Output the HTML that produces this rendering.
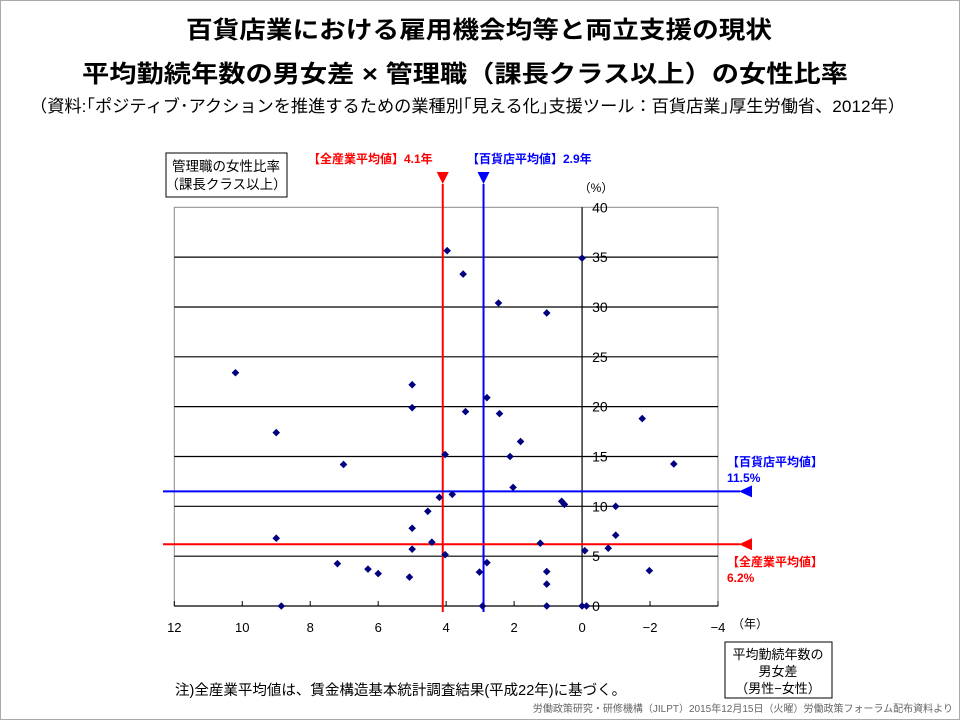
<!DOCTYPE html>
<html><head><meta charset="utf-8"><style>
html,body{margin:0;padding:0;background:#fff}
svg{display:block}
text{font-family:"Liberation Sans","Noto Sans CJK JP",sans-serif}
</style></head><body>
<svg id="chart" width="960" height="720" viewBox="0 0 960 720">
<rect x="0.5" y="0.5" width="959" height="719" fill="#fff" stroke="#aaa"/>
<text x="186" y="38" font-size="24" font-weight="bold" textLength="586" lengthAdjust="spacingAndGlyphs">百貨店業における雇用機会均等と両立支援の現状</text>
<text x="82" y="82" font-size="24" font-weight="bold" textLength="766" lengthAdjust="spacingAndGlyphs">平均勤続年数の男女差 × 管理職（課長クラス以上）の女性比率</text>
<text x="30" y="112" font-size="17" textLength="875" lengthAdjust="spacingAndGlyphs">（資料:｢ポジティブ･アクションを推進するための業種別｢見える化｣支援ツール：百貨店業｣厚生労働省、2012年）</text>
<g id="plot"></g>
<rect x="166" y="153" width="121" height="44" fill="none" stroke="#000"/>
<text x="226" y="171" text-anchor="middle" font-size="13.5">管理職の女性比率</text>
<text x="226" y="189" text-anchor="middle" font-size="13.5">（課長クラス以上）</text>
<text x="596" y="192" text-anchor="middle" font-size="12">（%）</text>
<text x="750" y="628" text-anchor="middle" font-size="12">（年）</text>
<rect x="725" y="642" width="107" height="56" fill="none" stroke="#000"/>
<text x="778" y="659" text-anchor="middle" font-size="13">平均勤続年数の</text>
<text x="778" y="676" text-anchor="middle" font-size="13">男女差</text>
<text x="778" y="693" text-anchor="middle" font-size="13">（男性−女性）</text>
<text x="175" y="695" font-size="14.5">注)全産業平均値は、賃金構造基本統計調査結果(平成22年)に基づく。</text>
<text x="953" y="712" text-anchor="end" font-size="10" fill="#666">労働政策研究・研修機構（JILPT）2015年12月15日（火曜）労働政策フォーラム配布資料より</text>
</svg>
<script>
const xs=[3.97,3.5,2.46,1.04,0,10.2,5.0,5.0,2.8,3.43,2.43,9.0,1.81,4.03,2.12,7.02,2.03,3.82,4.2,0.6,0.52,4.54,5.0,9.0,4.42,1.23,5.0,-0.08,4.03,7.2,2.8,6.3,6.0,5.08,3.02,1.04,1.04,8.85,2.93,1.04,0,-0.13,-0.99,-0.99,-0.77,-1.77,-2.7,-1.98];
const ys=[35.65,33.3,30.4,29.4,34.9,23.4,22.2,19.9,20.9,19.5,19.3,17.4,16.5,15.2,15.0,14.2,11.9,11.2,10.9,10.5,10.2,9.5,7.8,6.8,6.4,6.3,5.7,5.55,5.15,4.25,4.35,3.7,3.25,2.9,3.4,3.45,2.2,0,0,0,0,0,10.0,7.1,5.8,18.8,14.25,3.55];
const xTicks=[12,10,8,6,4,2,0,-2,-4];
const yTicks=[0,5,10,15,20,25,30,35,40];
const avgAllX=4.1, avgDeptX=2.9, avgDeptY=11.5, avgAllY=6.2;
const X0=174.3,X1=718,Y0=606,Y1=207.3;
const sx=v=>X0+(12-v)*(X1-X0)/16;
const sy=v=>Y0-v*(Y0-Y1)/40;
const NS="http://www.w3.org/2000/svg";
const g=document.getElementById('plot');
function mk(t,a){const e=document.createElementNS(NS,t);for(const k in a)e.setAttribute(k,a[k]);g.appendChild(e);return e;}
const bg=mk('rect',{x:X0,y:Y1,width:X1-X0,height:Y0-Y1,fill:'#fff',stroke:'#888'});


yTicks.forEach(t=>{
 if(t>0&&t<40){const l=mk('line',{x1:X0,x2:X1,y1:sy(t),y2:sy(t),stroke:'#000','stroke-width':1.2});
 
 }
 const tx=mk('text',{x:sx(0)+10,y:sy(t)+5,'font-size':14});tx.textContent=t;
 
 
});
const xa=mk('line',{x1:X0,x2:X1,y1:Y0,y2:Y0,stroke:'#000','stroke-width':1.2});


const ya=mk('line',{x1:sx(0),x2:sx(0),y1:Y1,y2:Y0,stroke:'#000','stroke-width':1.2});


xTicks.forEach(t=>{
 const l=mk('line',{x1:sx(t),x2:sx(t),y1:Y0,y2:Y0-5,stroke:'#000'});
 
 
 const tx=mk('text',{x:sx(t),y:632,'font-size':13,'text-anchor':'middle'});tx.textContent=t<0?'−'+(-t):t;
 
 
});
function vline(v,c,name,label,lx){
 const l=mk('line',{x1:sx(v),x2:sx(v),y1:184,y2:612,stroke:c,'stroke-width':2});
 
 
 const a=mk('polygon',{points:`${sx(v)-6},172 ${sx(v)+6},172 ${sx(v)},184`,fill:c});
 
 
 const t=mk('text',{x:lx,y:163,'font-size':12,'font-weight':'bold',fill:c});t.textContent=label;
 
 
}
function hline(v,c,name,l1,l2,ty){
 const l=mk('line',{x1:163,x2:740,y1:sy(v),y2:sy(v),stroke:c,'stroke-width':2});
 
 
 const a=mk('polygon',{points:`${739},${sy(v)} ${752},${sy(v)-6} ${752},${sy(v)+6}`,fill:c});
 
 
 const t=mk('text',{x:727,y:ty,'font-size':12,'font-weight':'bold',fill:c});t.textContent=l1;
 
 
 const t2=mk('text',{x:727,y:ty+16,'font-size':12,'font-weight':'bold',fill:c});t2.textContent=l2;
 
 
}
vline(avgAllX,'#f00','all-industry-avg-line','【全産業平均値】'+avgAllX+'年',308);
vline(avgDeptX,'#00f','dept-store-avg-line','【百貨店平均値】'+avgDeptX+'年',467);
hline(avgDeptY,'#00f','dept-store-avg-hline','【百貨店平均値】',avgDeptY+'%',466);
hline(avgAllY,'#f00','all-industry-avg-hline','【全産業平均値】',avgAllY+'%',566);
xs.forEach((v,i)=>{
 const cx=sx(v),cy=sy(ys[i]);
 const p=mk('polygon',{points:`${cx},${cy-3.8} ${cx+3.8},${cy} ${cx},${cy+3.8} ${cx-3.8},${cy}`,fill:'#000080'});
 
 
});
</script>
</body></html>
